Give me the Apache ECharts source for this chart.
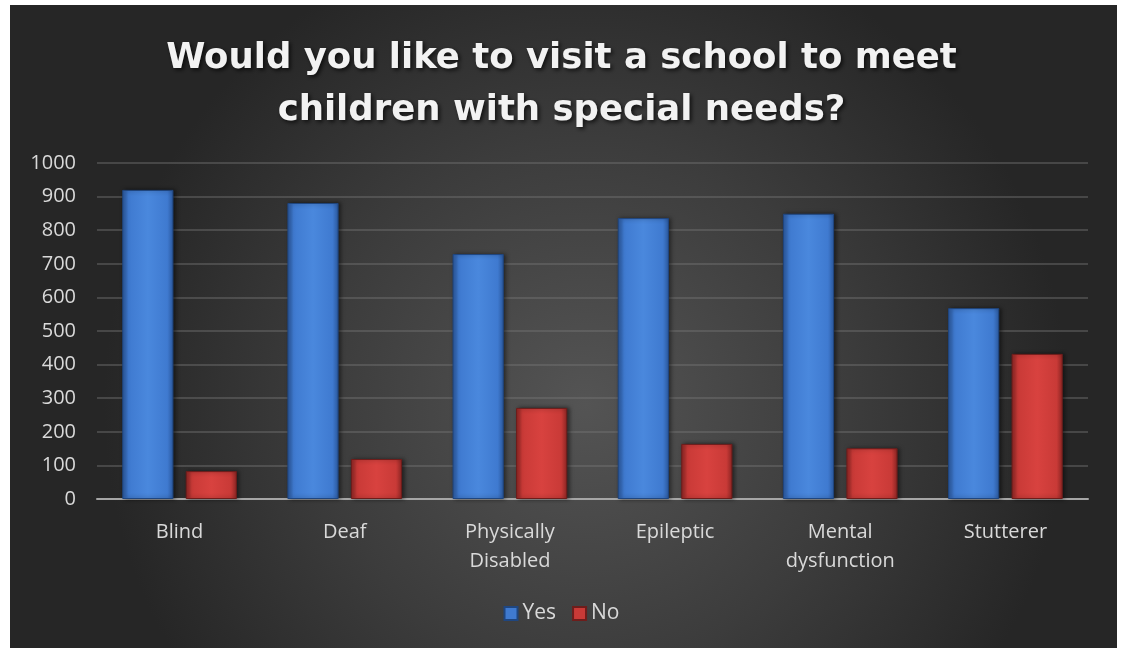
<!DOCTYPE html>
<html>
<head>
<meta charset="utf-8">
<script src="https://cdn.jsdelivr.net/npm/echarts@6/dist/echarts.min.js"></script>
<style>
html,body{margin:0;padding:0;background:#ffffff;}
#chart{width:1123px;height:648px;}
</style>
</head>
<body>
<div id="chart"></div>
<script>
const categories = ['Blind', 'Deaf', 'Physically\nDisabled', 'Epileptic', 'Mental\ndysfunction', 'Stutterer'];
const yesValues = [920, 881, 729, 836, 849, 568];
const noValues = [83, 119, 271, 164, 151, 432];
const yTicks = [0, 100, 200, 300, 400, 500, 600, 700, 800, 900, 1000];
const seriesNames = ['Yes', 'No'];

const chart = echarts.init(document.getElementById('chart'), null, {renderer: 'canvas'});

function barGrad(dark, mid, light) {
  return new echarts.graphic.LinearGradient(0, 0, 1, 0, [
    {offset: 0, color: dark},
    {offset: 0.12, color: mid},
    {offset: 0.5, color: light},
    {offset: 0.88, color: mid},
    {offset: 1, color: dark}
  ]);
}

const option = {
  animation: false,
  graphic: [{
    type: 'rect',
    z: -10,
    shape: {x: 10, y: 5, width: 1107, height: 643},
    style: {
      fill: new echarts.graphic.RadialGradient(0.52, 0.62, 0.75, [
        {offset: 0, color: '#545454'},
        {offset: 0.55, color: '#3c3c3c'},
        {offset: 1, color: '#262626'}
      ])
    }
  }],
  title: {
    text: 'Would you like to visit a school to meet\nchildren with special needs?',
    left: 'center',
    top: 28,
    textStyle: {
      color: '#f2f2f2',
      fontFamily: 'DejaVu Sans',
      fontWeight: 'bold',
      fontSize: 35.5,
      lineHeight: 52,
      textShadowColor: 'rgba(0,0,0,0.7)',
      textShadowBlur: 4,
      textShadowOffsetX: 2,
      textShadowOffsetY: 2
    }
  },
  legend: {
    data: seriesNames,
    bottom: 19,
    left: 'center',
    itemWidth: 13,
    itemHeight: 13,
    itemGap: 16,
    icon: 'rect',
    textStyle: {color: '#d9d9d9', fontSize: 21, fontFamily: 'Open Sans'}
  },
  grid: {left: 97, right: 35, top: 163, bottom: 149, containLabel: false},
  xAxis: {
    type: 'category',
    data: categories,
    axisLine: {lineStyle: {color: '#a6a6a6', width: 2}},
    axisTick: {show: false},
    axisLabel: {color: '#d9d9d9', fontSize: 20, fontFamily: 'Open Sans', lineHeight: 29, margin: 19}
  },
  yAxis: {
    type: 'value',
    min: 0,
    max: 1000,
    interval: 100,
    axisLine: {show: false},
    axisTick: {show: false},
    splitLine: {lineStyle: {color: 'rgba(120,120,120,0.55)', width: 1.5}},
    axisLabel: {color: '#d9d9d9', fontSize: 20, fontFamily: 'Open Sans', margin: 21,
      formatter: function (v) { return yTicks.indexOf(v) >= 0 ? String(v) : ''; }}
  },
  series: [
    {
      name: seriesNames[0],
      type: 'bar',
      data: yesValues,
      barWidth: '31%',
      barGap: '24%',
      itemStyle: {
        color: barGrad('#2c5aa0', '#3f7ad0', '#4a88dd'),
        borderColor: '#1f4680',
        borderWidth: 1,
        shadowColor: 'rgba(0,0,0,0.5)',
        shadowBlur: 4,
        shadowOffsetX: 2
      }
    },
    {
      name: seriesNames[1],
      type: 'bar',
      data: noValues,
      barWidth: '31%',
      itemStyle: {
        color: barGrad('#8e2624', '#c93a37', '#d8423f'),
        borderColor: '#6e1d1b',
        borderWidth: 1,
        shadowColor: 'rgba(0,0,0,0.5)',
        shadowBlur: 4,
        shadowOffsetX: 2
      }
    }
  ]
};
option.legend.data = [
  {name: 'Yes', itemStyle: {color: '#3f7ad0'}},
  {name: 'No', itemStyle: {color: '#c93a37'}}
];
chart.setOption(option);
</script>
</body>
</html>
